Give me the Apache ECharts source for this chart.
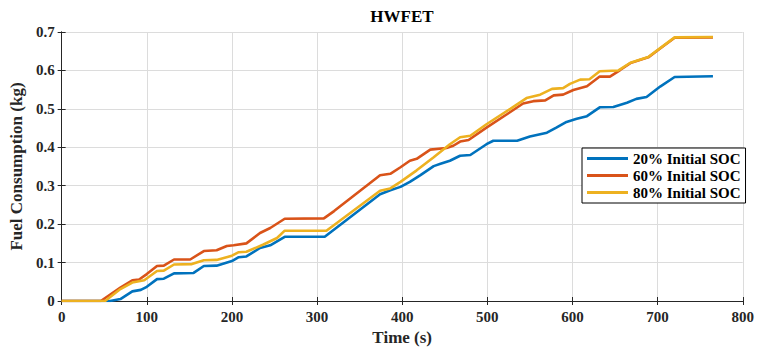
<!DOCTYPE html>
<html>
<head>
<meta charset="utf-8">
<script src="https://cdn.jsdelivr.net/npm/echarts@6/dist/echarts.min.js"></script>
<style>html,body{margin:0;padding:0;background:#fff}#c{width:757px;height:351px}</style>
</head>
<body>
<div id="c"></div>
<script>
const chartTitle = 'HWFET';
const xName = 'Time (s)';
const yName = 'Fuel Consumption (kg)';
const seriesNames = ['20% Initial SOC', '60% Initial SOC', '80% Initial SOC'];

const time20 = [0,57,69,83,93,100,112,120,132,155,167,182,200,208,217,233,245,262,309,374,386,398,409,421,437,445,456,468,480,499,507,535,550,562,570,581,593,605,617,632,648,664,675,687,703,720,765];
const fuel20 = [0,0,0.005,0.025,0.029,0.037,0.057,0.058,0.072,0.073,0.091,0.092,0.104,0.114,0.116,0.138,0.145,0.167,0.167,0.278,0.288,0.297,0.31,0.327,0.351,0.357,0.365,0.378,0.38,0.408,0.417,0.417,0.428,0.434,0.438,0.451,0.466,0.474,0.481,0.504,0.505,0.516,0.526,0.531,0.558,0.583,0.585];

const time60 = [0,46,69,83,91,100,112,120,132,151,167,182,194,202,217,233,245,262,308,320,374,386,398,409,417,433,452,460,468,478,499,523,542,554,568,578,589,601,617,632,644,656,668,679,689,703,720,765];
const fuel60 = [0,0,0.035,0.054,0.056,0.07,0.091,0.092,0.108,0.108,0.13,0.132,0.143,0.145,0.15,0.177,0.19,0.214,0.215,0.234,0.327,0.331,0.348,0.365,0.37,0.394,0.398,0.404,0.415,0.419,0.451,0.486,0.514,0.52,0.522,0.535,0.537,0.549,0.559,0.584,0.584,0.601,0.619,0.627,0.634,0.657,0.685,0.686];

const time80 = [0,51,69,83,97,112,120,132,153,167,182,200,208,217,237,253,262,311,374,386,398,417,437,456,468,480,499,527,546,562,576,589,597,609,620,632,654,668,679,689,703,720,765];
const fuel80 = [0,0,0.031,0.048,0.054,0.078,0.079,0.095,0.096,0.106,0.107,0.118,0.127,0.128,0.147,0.164,0.183,0.183,0.287,0.293,0.31,0.34,0.374,0.408,0.426,0.43,0.46,0.5,0.528,0.537,0.552,0.554,0.565,0.576,0.577,0.598,0.6,0.62,0.628,0.635,0.658,0.686,0.687];

const colors = ['#0072BD', '#D95319', '#EDB120'];
const font = '"Liberation Serif", "Times New Roman", serif';
const ink = '#262626';

function pairs(t, v) { return t.map((x, i) => [x, v[i]]); }

const chart = echarts.init(document.getElementById('c'), null, {renderer: 'svg'});
const axisCommon = {
  axisLine: {show: true, lineStyle: {color: ink, width: 1}},
  axisTick: {show: true, inside: true, length: 4, lineStyle: {color: ink}},
};
chart.setOption({
  animation: false,
  backgroundColor: '#fff',
  color: colors,
  grid: {left: 61, top: 32, right: 14, bottom: 47, containLabel: false},
  graphic: [{
    type: 'text', x: 402, y: 8, z: 10,
    style: {text: chartTitle, font: 'bold 17px ' + font, fill: '#000', textAlign: 'center', textVerticalAlign: 'top'}
  }],
  xAxis: [Object.assign({
    type: 'value', min: 0, max: 800, interval: 100, position: 'bottom',
    name: xName, nameLocation: 'middle', nameGap: 28,
    nameTextStyle: {fontFamily: font, fontWeight: 'bold', fontSize: 17, color: ink},
    axisLabel: {fontFamily: font, fontWeight: 'bold', fontSize: 15, color: ink, margin: 8},
    splitLine: {show: true, lineStyle: {color: '#dcdcdc', width: 1}}
  }, axisCommon), Object.assign({
    type: 'value', min: 0, max: 800, interval: 100, position: 'top',
    axisLabel: {show: false}, splitLine: {show: false}
  }, axisCommon)],
  yAxis: [Object.assign({
    type: 'value', min: 0, max: 0.7, interval: 0.1, position: 'left',
    name: yName, nameLocation: 'middle', nameGap: 32,
    nameTextStyle: {fontFamily: font, fontWeight: 'bold', fontSize: 17, color: ink},
    axisLabel: {fontFamily: font, fontWeight: 'bold', fontSize: 15, color: ink, margin: 7},
    splitLine: {show: true, lineStyle: {color: '#dcdcdc', width: 1}}
  }, axisCommon), Object.assign({
    type: 'value', min: 0, max: 0.7, interval: 0.1, position: 'right',
    axisLabel: {show: false}, splitLine: {show: false}
  }, axisCommon)],
  legend: {
    orient: 'vertical', left: 582, top: 148,
    backgroundColor: '#fff', borderColor: '#000', borderWidth: 1, borderRadius: 0,
    padding: [3, 5, 3, 5], itemGap: 2, itemWidth: 41, itemHeight: 3, icon: 'rect',
    textStyle: {fontFamily: font, fontWeight: 'bold', fontSize: 15, color: '#000', lineHeight: 15},
    data: seriesNames
  },
  series: [
    {name: seriesNames[0], type: 'line', symbol: 'none', data: pairs(time20, fuel20), lineStyle: {width: 2.6}},
    {name: seriesNames[1], type: 'line', symbol: 'none', data: pairs(time60, fuel60), lineStyle: {width: 2.6}},
    {name: seriesNames[2], type: 'line', symbol: 'none', data: pairs(time80, fuel80), lineStyle: {width: 2.6}}
  ]
});
</script>
</body>
</html>
